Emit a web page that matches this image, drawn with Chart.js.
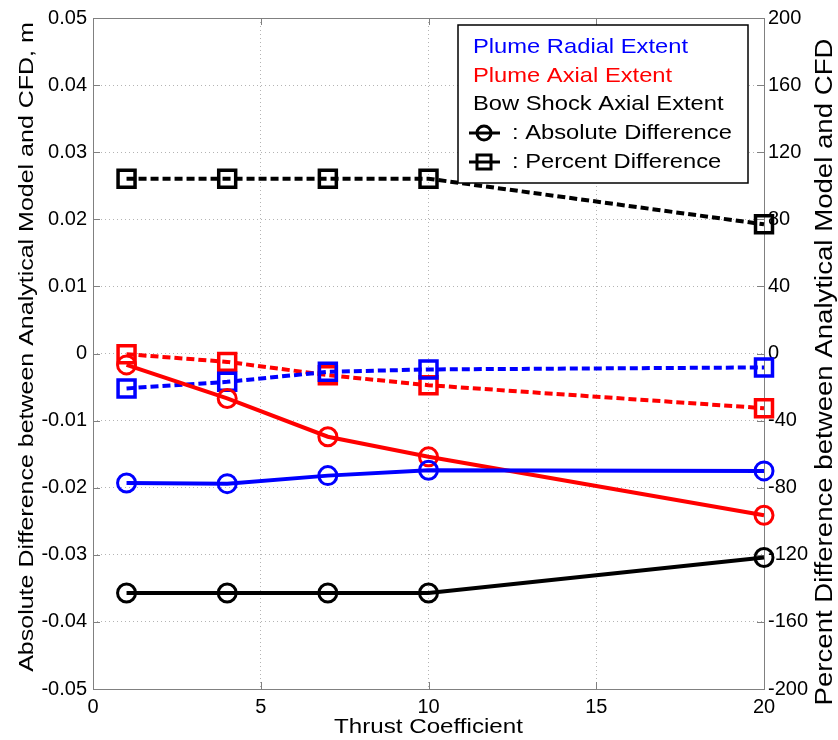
<!DOCTYPE html>
<html>
<head>
<meta charset="utf-8">
<script src="https://cdn.jsdelivr.net/npm/chart.js@4.4.1/dist/chart.umd.min.js"></script>
<style>
  html, body { margin: 0; padding: 0; background: #fff; }
  #wrap { width: 838px; height: 740px; }
</style>
</head>
<body>
<div id="wrap"><canvas id="thrustChart" width="838" height="740"></canvas></div>
<script>
// thrust coefficients where CFD runs were compared
const thrustCoeffs = [1, 4, 7, 10, 20];

// absolute difference (m), left axis
const radialAbs = [-0.0193, -0.0194, -0.0182, -0.0174, -0.0175];
const axialAbs = [-0.0017, -0.0067, -0.0124, -0.0154, -0.0241];
const bowAbs = [-0.0357, -0.0357, -0.0357, -0.0357, -0.0304];

// percent difference, right axis
const radialPct = [-20.8, -16.9, -10.9, -9.5, -8.3];
const axialPct = [-0.4, -5.0, -12.9, -18.9, -32.6];
const bowPct = [104.2, 104.2, 104.2, 104.2, 77.0];

const leftTicks = [-0.05, -0.04, -0.03, -0.02, -0.01, 0, 0.01, 0.02, 0.03, 0.04, 0.05];
const rightTicks = [-200, -160, -120, -80, -40, 0, 40, 80, 120, 160, 200];
const xTicks = [0, 5, 10, 15, 20];

const legendLines = [
    { text: 'Plume Radial Extent', color: '#0000ff' },
    { text: 'Plume Axial Extent', color: '#ff0000' },
    { text: 'Bow Shock Axial Extent', color: '#000000' }
];

const FONT = '"Liberation Sans", Arial, sans-serif';

function pts(ys) {
    return thrustCoeffs.map((x, i) => ({ x: x, y: ys[i] }));
}

function absSet(label, ys, color) {
    return {
        label: label, data: pts(ys), yAxisID: 'y',
        borderColor: color, backgroundColor: 'transparent',
        borderWidth: 4, pointStyle: 'circle', pointRadius: 9,
        pointBorderWidth: 3, pointBorderColor: color,
        pointBackgroundColor: 'transparent', clip: false, tension: 0
    };
}

function pctSet(label, ys, color) {
    return {
        label: label, data: pts(ys), yAxisID: 'y1',
        borderColor: color, backgroundColor: 'transparent',
        borderWidth: 4, borderDash: [8, 4], pointStyle: 'rect', pointRadius: 12,
        pointBorderWidth: 3.5, pointBorderColor: color,
        pointBackgroundColor: 'transparent', clip: false, tension: 0
    };
}

// draw text stretched horizontally (the original renders wider than Arial)
function wideText(ctx, text, x, y, sx, rot) {
    ctx.save();
    ctx.translate(x, y);
    if (rot) ctx.rotate(rot);
    ctx.scale(sx, 1);
    ctx.fillText(text, 0, 0);
    ctx.restore();
}

const framePlugin = {
    id: 'frame',
    beforeDatasetsDraw(chart) {
        const { ctx, chartArea: a, scales } = chart;
        ctx.save();
        ctx.strokeStyle = '#808080';
        ctx.lineWidth = 1;
        ctx.strokeRect(a.left + 0.5, a.top + 0.5, a.right - a.left, a.bottom - a.top);
        // small inward tick marks
        ctx.beginPath();
        xTicks.forEach(v => {
            const x = Math.round(scales.x.getPixelForValue(v)) + 0.5;
            ctx.moveTo(x, a.bottom); ctx.lineTo(x, a.bottom - 7);
            ctx.moveTo(x, a.top); ctx.lineTo(x, a.top + 7);
        });
        leftTicks.forEach(v => {
            const y = Math.round(scales.y.getPixelForValue(v)) + 0.5;
            ctx.moveTo(a.left, y); ctx.lineTo(a.left + 7, y);
        });
        rightTicks.forEach(v => {
            const y = Math.round(scales.y1.getPixelForValue(v)) + 0.5;
            ctx.moveTo(a.right, y); ctx.lineTo(a.right - 7, y);
        });
        ctx.stroke();
        ctx.restore();
    },
    afterDraw(chart) {
        const { ctx, chartArea: a } = chart;
        ctx.save();
        ctx.fillStyle = '#000';
        ctx.textBaseline = 'alphabetic';
        ctx.textAlign = 'center';

        ctx.font = '21px ' + FONT;
        wideText(ctx, 'Thrust Coefficient', (a.left + a.right) / 2, 733, 1.15);
        wideText(ctx, 'Absolute Difference between Analytical Model and CFD, m', 33, 347, 1.19, -Math.PI / 2);
        ctx.font = '23px ' + FONT;
        wideText(ctx, 'Percent Difference between Analytical Model and CFD', 832, 372, 1.2, -Math.PI / 2);

        // legend box
        const bx = 458, by = 25, bw = 290, bh = 158;
        ctx.fillStyle = '#fff';
        ctx.fillRect(bx, by, bw, bh);
        ctx.strokeStyle = '#000';
        ctx.lineWidth = 1.5;
        ctx.strokeRect(bx, by, bw, bh);

        ctx.font = '21px ' + FONT;
        ctx.textAlign = 'left';
        ctx.textBaseline = 'middle';
        const rowY = [47, 76, 104, 133, 162];
        legendLines.forEach((l, i) => {
            ctx.fillStyle = l.color;
            wideText(ctx, l.text, 473, rowY[i], 1.13);
        });
        ctx.fillStyle = '#000';
        wideText(ctx, ': Absolute Difference', 512, rowY[3], 1.13);
        wideText(ctx, ': Percent Difference', 512, rowY[4], 1.13);

        ctx.lineWidth = 3;
        ctx.beginPath();
        ctx.moveTo(469, rowY[3]); ctx.lineTo(500, rowY[3]);
        ctx.moveTo(469, rowY[4]); ctx.lineTo(500, rowY[4]);
        ctx.stroke();
        ctx.beginPath();
        ctx.arc(484, rowY[3], 7, 0, Math.PI * 2);
        ctx.stroke();
        ctx.strokeRect(477, rowY[4] - 7, 14, 14);
        ctx.restore();
    }
};

new Chart(document.getElementById('thrustChart').getContext('2d'), {
    type: 'line',
    data: {
        datasets: [
            absSet('Plume Radial Extent (abs)', radialAbs, '#0000ff'),
            absSet('Plume Axial Extent (abs)', axialAbs, '#ff0000'),
            absSet('Bow Shock Axial Extent (abs)', bowAbs, '#000000'),
            pctSet('Plume Radial Extent (%)', radialPct, '#0000ff'),
            pctSet('Plume Axial Extent (%)', axialPct, '#ff0000'),
            pctSet('Bow Shock Axial Extent (%)', bowPct, '#000000')
        ]
    },
    options: {
        responsive: false,
        animation: false,
        layout: { padding: { top: 16, left: 0, right: 0, bottom: 0 } },
        plugins: { legend: { display: false }, tooltip: { enabled: false } },
        scales: {
            x: {
                type: 'linear', min: 0, max: 20,
                afterFit: s => { s.height = 51; },
                afterBuildTicks: s => { s.ticks = xTicks.map(v => ({ value: v })); },
                grid: { color: '#b4b4b4', lineWidth: 1, drawTicks: false },
                border: { display: false, dash: [1, 3] },
                ticks: { color: '#000', padding: 6, maxRotation: 0, font: { family: FONT, size: 20 } }
            },
            y: {
                position: 'left', min: -0.05, max: 0.05,
                afterFit: s => { s.width = 93; },
                afterBuildTicks: s => { s.ticks = leftTicks.map(v => ({ value: v })); },
                grid: { color: '#b4b4b4', lineWidth: 1, drawTicks: false },
                border: { display: false, dash: [1, 3] },
                ticks: {
                    color: '#000', padding: 6, font: { family: FONT, size: 20 },
                    callback: v => Math.abs(v) < 1e-9 ? '0' : v.toFixed(2)
                }
            },
            y1: {
                position: 'right', min: -200, max: 200,
                afterFit: s => { s.width = 74; },
                afterBuildTicks: s => { s.ticks = rightTicks.map(v => ({ value: v })); },
                grid: { drawOnChartArea: false, drawTicks: false },
                border: { display: false },
                ticks: { color: '#000', padding: 4, font: { family: FONT, size: 20 } }
            }
        }
    },
    plugins: [framePlugin]
});
</script>
</body>
</html>
